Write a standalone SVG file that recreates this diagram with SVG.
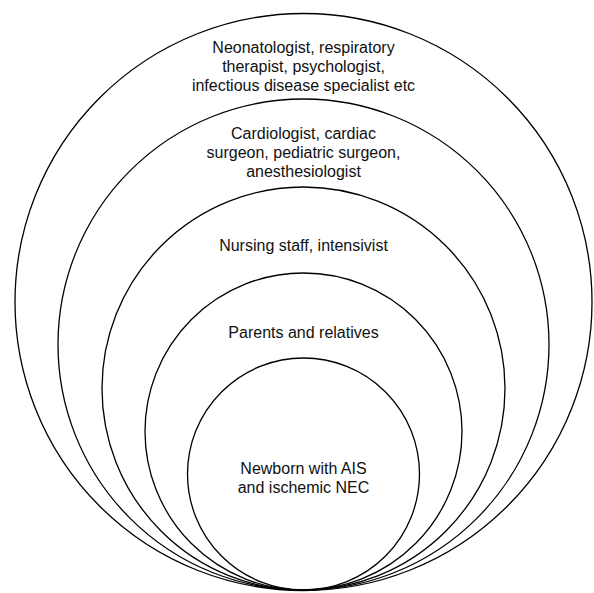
<svg xmlns="http://www.w3.org/2000/svg" width="594" height="593" viewBox="0 0 594 593">
<style>
.ring{fill:none;stroke:#000;stroke-width:1.3}
.lbl{font-family:"Liberation Sans",Arial,sans-serif;font-size:16px;fill:#111;text-anchor:middle}
</style>
<rect width="594" height="593" fill="#fff"/>
<g id="ring1">
<circle class="ring" cx="303.5" cy="302" r="288.5"/>
<text class="lbl" x="303.5" y="53">Neonatologist, respiratory</text>
<text class="lbl" x="303.5" y="72">therapist, psychologist,</text>
<text class="lbl" x="303.5" y="91">infectious disease specialist etc</text>
</g>
<g id="ring2">
<circle class="ring" cx="303.5" cy="344.5" r="245.5"/>
<text class="lbl" x="303.5" y="139">Cardiologist, cardiac</text>
<text class="lbl" x="303.5" y="158">surgeon, pediatric surgeon,</text>
<text class="lbl" x="303.5" y="177">anesthesiologist</text>
</g>
<g id="ring3">
<circle class="ring" cx="303.5" cy="388.5" r="201.5"/>
<text class="lbl" x="303.5" y="251">Nursing staff, intensivist</text>
</g>
<g id="ring4">
<circle class="ring" cx="303.5" cy="431.5" r="158.5"/>
<text class="lbl" x="303.5" y="338">Parents and relatives</text>
</g>
<g id="ring5">
<circle class="ring" cx="303.5" cy="474" r="116"/>
<text class="lbl" x="303.5" y="474">Newborn with AIS</text>
<text class="lbl" x="303.5" y="493">and ischemic NEC</text>
</g>
<g id="connectors"/>
</svg>
